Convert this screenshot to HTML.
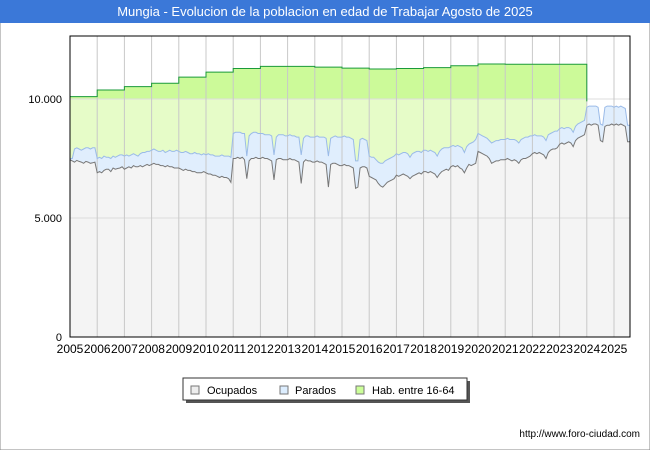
<!DOCTYPE html>
<html><head><meta charset="utf-8"><style>
body{margin:0;background:#fff;font-family:"Liberation Sans",sans-serif}
svg text{font-family:"Liberation Sans",sans-serif}
</style></head><body>
<svg id="c" width="650" height="450" xmlns="http://www.w3.org/2000/svg">
<rect x="0" y="0" width="650" height="450" fill="#fff" stroke="#888"/>
<rect x="0" y="0" width="650" height="23" fill="#3b78d8"/>
<text x="325" y="16" font-size="13" fill="#fff" text-anchor="middle">Mungia - Evolucion de la poblacion en edad de Trabajar Agosto de 2025</text>
<g id="plot"></g>
<g>
<rect x="186" y="381" width="284" height="22" fill="#555"/>
<rect x="183" y="378" width="284" height="22" fill="#fff" stroke="#333"/>
<rect x="191" y="386" width="8" height="8" fill="#eee" stroke="#777"/>
<text x="207" y="394" font-size="11">Ocupados</text>
<rect x="280" y="386" width="8" height="8" fill="#ddeeff" stroke="#777"/>
<text x="295" y="394" font-size="11">Parados</text>
<rect x="356" y="386" width="8" height="8" fill="#ccff99" stroke="#777"/>
<text x="372" y="394" font-size="11">Hab. entre 16-64</text>
</g>
<text x="640" y="437" font-size="10" text-anchor="end">http://www.foro-ciudad.com</text>
</svg>
<script>
const years=[2005,2006,2007,2008,2009,2010,2011,2012,2013,2014,2015,2016,2017,2018,2019,2020,2021,2022,2023,2024,2025];
const yTicks=[0,5000,10000];
const yTickLabels=["0","5.000","10.000"];
const habYears=[2005,2006,2007,2008,2009,2010,2011,2012,2013,2014,2015,2016,2017,2018,2019,2020,2021,2022,2023];
const habValues=[10100,10380,10520,10660,10920,11130,11280,11370,11370,11340,11300,11260,11280,11320,11400,11470,11460,11460,11460];
const ocupados=[
7450,7400,7350,7420,7380,7350,7300,7380,7350,7300,7320,7350,
6900,6950,6900,7000,7050,7050,6950,7100,7050,7080,7100,7150,
7050,7100,7150,7100,7200,7150,7150,7200,7150,7200,7250,7200,
7250,7300,7250,7250,7200,7200,7150,7200,7150,7150,7100,7100,
7100,7050,7000,7050,7000,7000,6950,6950,6900,6900,6900,6950,
6900,6850,6850,6800,6800,6750,6700,6750,6700,6700,6650,6500,
7500,7500,7550,7500,7550,7450,6650,7400,7500,7500,7550,7500,
7500,7550,7500,7500,7450,7400,6600,7450,7500,7500,7450,7450,
7450,7500,7450,7450,7400,7350,6450,7350,7450,7400,7400,7350,
7350,7400,7350,7350,7300,7250,6300,7250,7300,7300,7250,7200,
7200,7250,7200,7200,7150,7100,6250,6300,7100,7150,7150,7100,
6750,6700,6650,6600,6450,6350,6300,6400,6500,6550,6600,6650,
6800,6750,6800,6850,6800,6750,6650,6750,6800,6850,6900,6850,
6950,6950,6900,6950,6900,6850,6700,6850,6950,7000,7050,7000,
7150,7200,7150,7200,7100,7050,6900,7100,7250,7200,7250,7300,
7800,7750,7700,7650,7600,7500,7300,7350,7400,7400,7450,7450,
7450,7500,7450,7400,7450,7400,7300,7450,7500,7500,7550,7600,
7700,7750,7700,7750,7700,7650,7500,7750,7850,7900,7900,7950,
8100,8150,8100,8150,8200,8150,8000,8250,8350,8400,8450,8500,
8900,8950,8900,8950,8950,8900,8250,8200,8850,8900,8900,8950,
8900,8950,8900,8950,8900,8850,8200,8200];
const parados=[
7500,7500,7900,7950,7900,7850,7900,7950,7950,7900,7950,7950,
7500,7550,7500,7600,7550,7550,7500,7600,7550,7600,7650,7650,
7600,7650,7600,7650,7700,7650,7600,7700,7750,7750,7800,7800,
7850,7900,7850,7800,7800,7850,7750,7800,7850,7800,7800,7850,
7800,7750,7750,7800,7750,7700,7700,7750,7700,7700,7650,7700,
7650,7700,7650,7650,7600,7600,7600,7650,7600,7600,7600,7550,
8550,8600,8600,8600,8550,8550,7600,8450,8550,8600,8600,8550,
8550,8550,8500,8500,8500,8450,7650,8400,8500,8500,8500,8450,
8450,8500,8450,8450,8400,8400,7650,8350,8450,8450,8400,8400,
8400,8450,8400,8400,8400,8350,7600,8350,8400,8450,8400,8400,
8400,8450,8400,8400,8350,8300,7400,7400,8300,8350,8300,8250,
7600,7550,7550,7450,7350,7300,7300,7400,7450,7500,7550,7600,
7700,7650,7700,7750,7750,7700,7550,7700,7750,7800,7800,7750,
7850,7850,7800,7850,7800,7750,7600,7800,7900,7950,7950,7950,
8000,8050,8000,8050,8000,7950,7750,8000,8100,8150,8200,8300,
8550,8500,8450,8400,8350,8250,8150,8200,8250,8250,8300,8300,
8300,8350,8300,8300,8300,8250,8150,8300,8350,8400,8400,8450,
8450,8500,8450,8450,8450,8400,8250,8500,8550,8600,8650,8650,
8750,8800,8750,8800,8800,8750,8600,8850,8950,9000,9050,9100,
9650,9700,9700,9700,9700,9650,8950,8900,9650,9700,9700,9700,
9650,9700,9650,9700,9650,9600,8900,8900];

const L=70,R=630,T=36,B=337,YW=27.2;
const xOfYear=y=>L+(y-2005)*YW;
const xOfMonth=i=>L+(i/12)*YW;
const yOf=v=>B-v*0.0238;
const NS="http://www.w3.org/2000/svg";
const plot=document.getElementById('plot');
function mk(tag,attrs){const e=document.createElementNS(NS,tag);for(const k in attrs)e.setAttribute(k,attrs[k]);plot.appendChild(e);return e;}
function fmt(n){return n.toFixed(1);}

const habEnd=xOfYear(habYears[habYears.length-1]+1);
let hp="M"+L+","+B;
habYears.forEach((yr,i)=>{hp+=" L"+fmt(xOfYear(yr))+","+fmt(yOf(habValues[i]))+" L"+fmt(xOfYear(yr+1))+","+fmt(yOf(habValues[i]));});
hp+=" L"+fmt(habEnd)+","+B+" Z";
const defs=mk('defs',{});
const cp=document.createElementNS(NS,'clipPath');cp.setAttribute('id','habclip');defs.appendChild(cp);
const cpp=document.createElementNS(NS,'path');cpp.setAttribute('d',hp);cp.appendChild(cpp);
let e=mk('path',{d:hp,fill:'#e6fcc8'});


e=mk('rect',{x:L,y:T,width:R-L,height:yOf(10000)-T,fill:'#ccfa99','clip-path':'url(#habclip)'});



function series(arr){return arr.map((v,i)=>fmt(xOfMonth(i))+","+fmt(yOf(v)));}
const pPts=series(parados),oPts=series(ocupados);
const lastX=fmt(xOfMonth(parados.length-1));
e=mk('path',{d:"M"+L+","+B+" L"+pPts.join(" L")+" L"+lastX+","+B+" Z",fill:'#e0eefd'});


e=mk('path',{d:"M"+L+","+B+" L"+oPts.join(" L")+" L"+lastX+","+B+" Z",fill:'#f4f4f4'});



yTicks.forEach((t,i)=>{
 if(t>0){const g=mk('line',{x1:L,x2:R,y1:yOf(t),y2:yOf(t),stroke:'#ddd'});
 
 }
 const tx=mk('text',{x:L-8,y:yOf(t)+4,'font-size':11,'text-anchor':'end'});tx.textContent=yTickLabels[i];
 
 
});
years.forEach(yr=>{
 const x=xOfYear(yr);
 if(yr>2005){const g=mk('line',{x1:x,x2:x,y1:T,y2:B,stroke:'#c8c8c8'});
 
 }
 const tx=mk('text',{x:x,y:B+16,'font-size':12,'text-anchor':'middle'});tx.textContent=yr;
 
 
});

e=mk('polyline',{points:pPts.join(" "),fill:'none',stroke:'#9bbbe8','stroke-width':1});


e=mk('polyline',{points:oPts.join(" "),fill:'none',stroke:'#777','stroke-width':1});


let hl="";
habYears.forEach((yr,i)=>{hl+=(i?" L":"M")+fmt(xOfYear(yr))+","+fmt(yOf(habValues[i]))+" L"+fmt(xOfYear(yr+1))+","+fmt(yOf(habValues[i]));});
hl+=" L"+fmt(habEnd)+","+fmt(yOf(9900));
e=mk('path',{d:hl,fill:'none',stroke:'#1a9a3a','stroke-width':1});


e=mk('rect',{x:L,y:T,width:R-L,height:B-T,fill:'none',stroke:'#000'});


</script>
</body></html>
